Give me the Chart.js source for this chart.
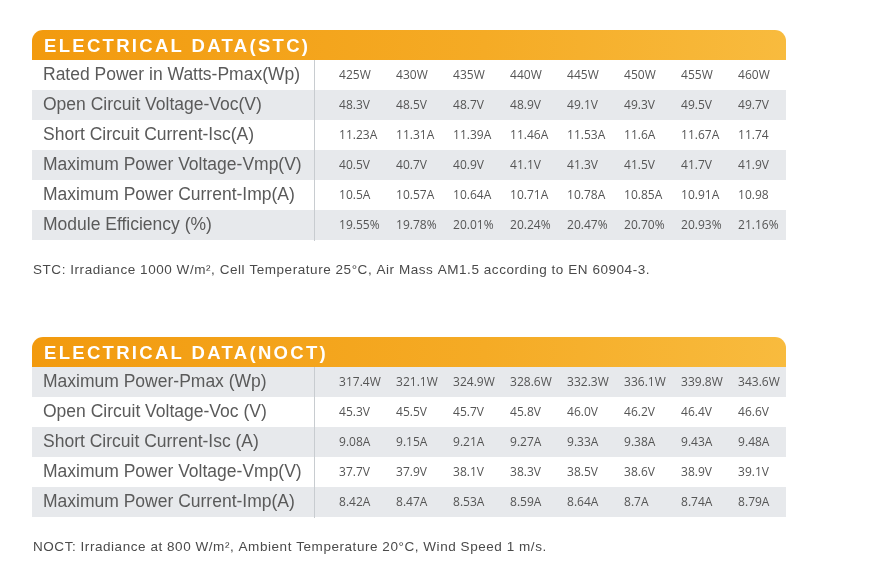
<!DOCTYPE html>
<html>
<head>
<meta charset="utf-8">
<script src="https://cdn.jsdelivr.net/npm/chart.js@4.4.1/dist/chart.umd.min.js"></script>
<style>
  html, body { margin: 0; padding: 0; background: #fff; }
  .sheet { position: absolute; left: 0; width: 875px; }
  #stcBox { top: 0; height: 300px; }
  #noctBox { top: 300px; height: 281px; }
</style>
</head>
<body>
<div class="sheet" id="stcBox"><canvas id="stc" width="875" height="300"></canvas></div>
<div class="sheet" id="noctBox"><canvas id="noct" width="875" height="281"></canvas></div>
<script>
// power classes = table columns
const powerClasses = ['425W', '430W', '435W', '440W', '445W', '450W', '455W', '460W'];

// STC rows
const stcLabels = [
  'Rated Power in Watts-Pmax(Wp)',
  'Open Circuit Voltage-Voc(V)',
  'Short Circuit Current-Isc(A)',
  'Maximum Power Voltage-Vmp(V)',
  'Maximum Power Current-Imp(A)',
  'Module Efficiency (%)'
];
const stcPmax = powerClasses;
const stcVoc = ['48.3V', '48.5V', '48.7V', '48.9V', '49.1V', '49.3V', '49.5V', '49.7V'];
const stcIsc = ['11.23A', '11.31A', '11.39A', '11.46A', '11.53A', '11.6A', '11.67A', '11.74'];
const stcVmp = ['40.5V', '40.7V', '40.9V', '41.1V', '41.3V', '41.5V', '41.7V', '41.9V'];
const stcImp = ['10.5A', '10.57A', '10.64A', '10.71A', '10.78A', '10.85A', '10.91A', '10.98'];
const stcEff = ['19.55%', '19.78%', '20.01%', '20.24%', '20.47%', '20.70%', '20.93%', '21.16%'];
const stcNote = 'STC: Irradiance 1000 W/m\u00b2, Cell Temperature 25\u00b0C, Air Mass AM1.5 according to EN 60904-3.';

// NOCT rows
const noctLabels = [
  'Maximum Power-Pmax (Wp)',
  'Open Circuit Voltage-Voc (V)',
  'Short Circuit Current-Isc (A)',
  'Maximum Power Voltage-Vmp(V)',
  'Maximum Power Current-Imp(A)'
];
const noctPmax = ['317.4W', '321.1W', '324.9W', '328.6W', '332.3W', '336.1W', '339.8W', '343.6W'];
const noctVoc = ['45.3V', '45.5V', '45.7V', '45.8V', '46.0V', '46.2V', '46.4V', '46.6V'];
const noctIsc = ['9.08A', '9.15A', '9.21A', '9.27A', '9.33A', '9.38A', '9.43A', '9.48A'];
const noctVmp = ['37.7V', '37.9V', '38.1V', '38.3V', '38.5V', '38.6V', '38.9V', '39.1V'];
const noctImp = ['8.42A', '8.47A', '8.53A', '8.59A', '8.64A', '8.7A', '8.74A', '8.79A'];
const noctNote = 'NOCT: Irradiance at 800 W/m\u00b2, Ambient Temperature 20\u00b0C, Wind Speed 1 m/s.';

// header bar, zebra rows, footnote and cell texts
const sheetPlugin = {
  id: 'sheet',
  beforeDraw(chart, args, opts) {
    const ctx = chart.ctx;
    const area = chart.chartArea;
    const y = chart.scales.y;
    const left = opts.tableLeft, right = area.right;
    const top = area.top - opts.headerHeight;
    ctx.save();
    const grad = ctx.createLinearGradient(left, 0, right, 0);
    grad.addColorStop(0, '#f29a0e');
    grad.addColorStop(0.6, '#f5ab25');
    grad.addColorStop(1, '#f8bb3e');
    ctx.fillStyle = grad;
    ctx.beginPath();
    ctx.roundRect(left, top, right - left, opts.headerHeight, [11, 11, 0, 0]);
    ctx.fill();

    ctx.fillStyle = '#ffffff';
    ctx.font = 'bold 18.5px "Liberation Sans", Arial, sans-serif';
    ctx.letterSpacing = '2.3px';
    ctx.textBaseline = 'alphabetic';
    ctx.fillText(opts.title, 44, top + 21.5);
    ctx.letterSpacing = '0px';

    ctx.fillStyle = '#e7e9ec';
    y.getLabels().forEach((lab, i) => {
      if (i % 2 !== opts.stripeParity) return;
      const y0 = y.getPixelForValue(i - 0.5);
      const y1 = y.getPixelForValue(i + 0.5);
      ctx.fillRect(left, y0, right - left, y1 - y0);
    });

    ctx.fillStyle = '#4a4a4a';
    ctx.font = '13.5px "Liberation Sans", Arial, sans-serif';
    ctx.letterSpacing = '0.55px';
    ctx.fillText(opts.note, 33, area.bottom + opts.noteGap);
    ctx.restore();
  },
  afterDatasetsDraw(chart) {
    const ctx = chart.ctx;
    ctx.save();
    ctx.fillStyle = '#555555';
    ctx.font = '12px "Open Sans", sans-serif';
    ctx.textAlign = 'left';
    ctx.textBaseline = 'middle';
    chart.data.datasets.forEach((ds, r) => {
      chart.getDatasetMeta(r).data.forEach((pt, c) => {
        ctx.fillText(ds.cells[c], pt.x, pt.y + 1);
      });
    });
    ctx.restore();
  }
};

function makeSheet(canvasId, title, rowLabels, rows, note, stripeParity, padTop, padBottom) {
  return new Chart(document.getElementById(canvasId), {
    type: 'scatter',
    data: {
      labels: rowLabels,
      datasets: rows.map((cells, r) => ({
        label: rowLabels[r],
        cells: cells,
        data: cells.map((v, c) => ({ x: c, y: rowLabels[r] })),
        pointRadius: 0,
        pointHoverRadius: 0
      }))
    },
    options: {
      responsive: false,
      animation: false,
      devicePixelRatio: 1,
      events: [],
      layout: { padding: { left: 43, top: padTop, right: 89, bottom: padBottom } },
      plugins: {
        legend: { display: false },
        tooltip: { enabled: false },
        sheet: {
          title: title,
          note: note,
          stripeParity: stripeParity,
          tableLeft: 32,
          headerHeight: 30,
          noteGap: 34
        }
      },
      scales: {
        x: { type: 'linear', display: false, min: -0.44, max: 7.84 },
        y: {
          type: 'category',
          labels: rowLabels,
          offset: true,
          grid: { display: false },
          border: { display: true, color: '#c8ccd0', width: 1 },
          ticks: {
            autoSkip: false,
            crossAlign: 'far',
            padding: 0,
            color: '#5a5a5a',
            font: { family: '"Liberation Sans", Arial, sans-serif', size: 17.5 }
          },
          afterFit(scale) { scale.width = 271; }
        }
      }
    },
    plugins: [sheetPlugin]
  });
}

makeSheet('stc', 'ELECTRICAL DATA(STC)', stcLabels,
  [stcPmax, stcVoc, stcIsc, stcVmp, stcImp, stcEff], stcNote, 1, 60, 60);
makeSheet('noct', 'ELECTRICAL DATA(NOCT)', noctLabels,
  [noctPmax, noctVoc, noctIsc, noctVmp, noctImp], noctNote, 0, 67, 64);
</script>
</body>
</html>
